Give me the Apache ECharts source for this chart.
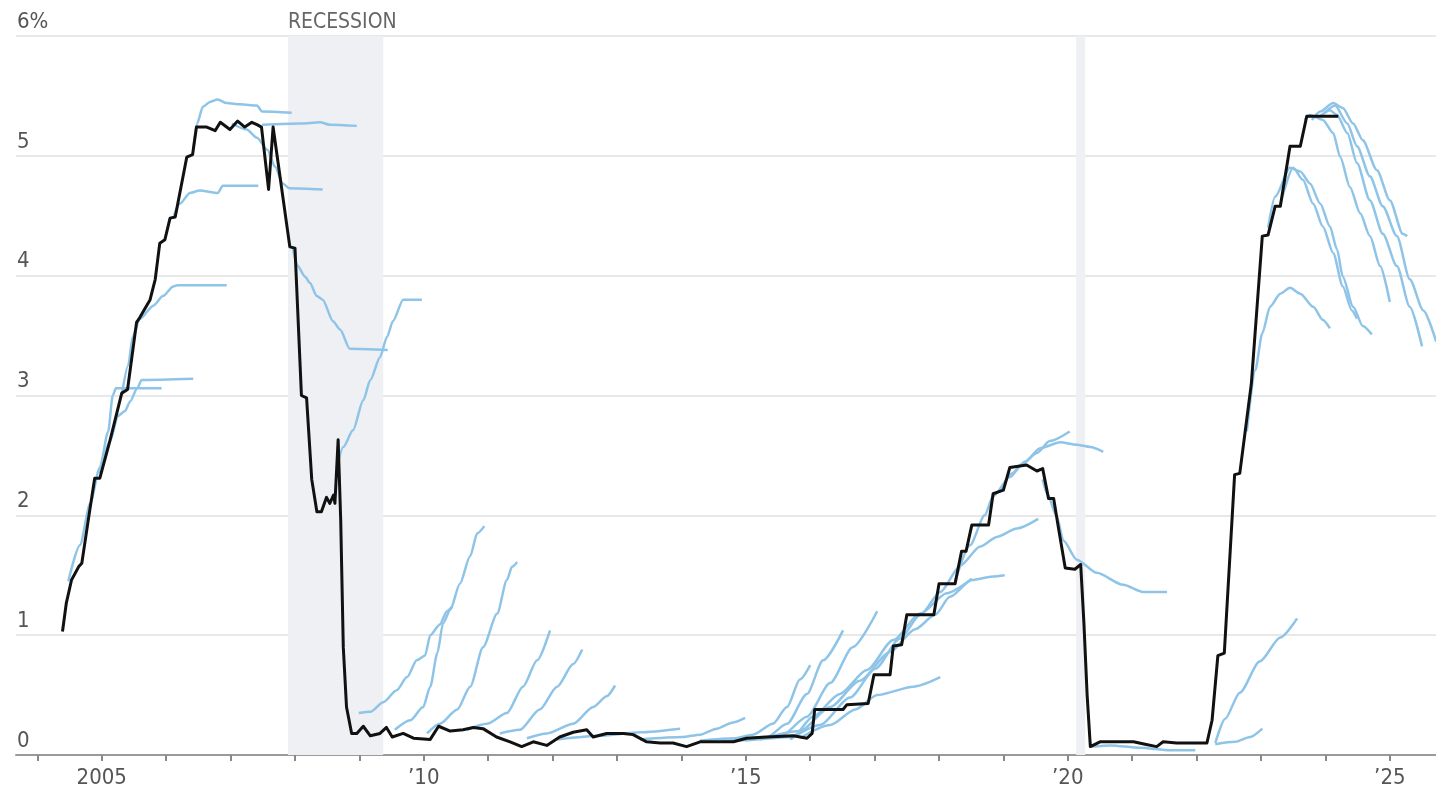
<!DOCTYPE html>
<html>
<head>
<meta charset="utf-8">
<script src="https://cdn.jsdelivr.net/npm/echarts@6/dist/echarts.min.js"></script>
<style>
  html, body { margin: 0; padding: 0; background: #ffffff; }
  #chart { width: 1436px; height: 799px; }
</style>
</head>
<body>
<div id="chart"></div>
<script>
// x values are decimal years, y values are percent.

// Effective federal funds rate
const fedFunds = [
  [2004.39,1.03],[2004.45,1.27],[2004.53,1.46],[2004.64,1.57],[2004.69,1.60],[2004.79,1.96],
  [2004.89,2.31],[2004.97,2.31],[2005.13,2.63],[2005.31,3.02],[2005.40,3.05],[2005.54,3.61],
  [2005.59,3.65],[2005.75,3.80],[2005.83,3.97],[2005.90,4.27],[2005.98,4.30],[2006.06,4.48],
  [2006.14,4.49],[2006.32,4.99],[2006.41,5.01],[2006.47,5.24],[2006.63,5.24],[2006.76,5.21],
  [2006.84,5.28],[2006.99,5.22],[2007.11,5.29],[2007.22,5.24],[2007.33,5.28],[2007.41,5.26],
  [2007.48,5.24],[2007.59,4.72],[2007.66,5.24],[2007.92,4.24],[2008.00,4.23],[2008.10,3.00],
  [2008.18,2.98],[2008.26,2.30],[2008.34,2.03],[2008.41,2.03],[2008.49,2.15],[2008.54,2.10],
  [2008.60,2.17],[2008.62,2.10],[2008.67,2.63],[2008.71,1.96],[2008.75,0.90],[2008.80,0.40],
  [2008.88,0.18],[2008.96,0.18],[2009.06,0.24],[2009.17,0.16],[2009.32,0.18],[2009.42,0.23],
  [2009.51,0.15],[2009.68,0.18],[2009.84,0.14],[2010.10,0.13],[2010.23,0.24],[2010.41,0.20],
  [2010.61,0.21],[2010.77,0.23],[2010.92,0.22],[2011.13,0.15],[2011.34,0.11],[2011.52,0.07],
  [2011.70,0.11],[2011.91,0.08],[2012.11,0.15],[2012.32,0.19],[2012.53,0.21],[2012.63,0.15],
  [2012.84,0.18],[2013.10,0.18],[2013.25,0.17],[2013.46,0.11],[2013.67,0.10],[2013.87,0.10],
  [2014.08,0.07],[2014.29,0.11],[2014.81,0.11],[2015.01,0.14],[2015.32,0.15],[2015.74,0.16],
  [2015.95,0.14],[2016.03,0.18],[2016.07,0.38],[2016.51,0.38],[2016.57,0.42],[2016.90,0.43],
  [2016.99,0.67],[2017.24,0.67],[2017.29,0.91],[2017.42,0.92],[2017.50,1.17],[2017.92,1.17],
  [2018.00,1.43],[2018.25,1.43],[2018.35,1.70],[2018.42,1.70],[2018.51,1.92],[2018.77,1.92],
  [2018.84,2.18],[2019.00,2.21],[2019.10,2.40],[2019.36,2.42],[2019.52,2.37],[2019.61,2.39],
  [2019.70,2.14],[2019.78,2.14],[2019.85,1.91],[2019.96,1.56],[2020.11,1.55],[2020.20,1.59],
  [2020.25,1.10],[2020.30,0.50],[2020.35,0.07],[2020.50,0.11],[2021.02,0.11],[2021.20,0.09],
  [2021.38,0.07],[2021.48,0.11],[2021.69,0.10],[2022.16,0.10],[2022.24,0.29],[2022.33,0.83],
  [2022.43,0.85],[2022.59,2.34],[2022.67,2.35],[2022.85,3.10],[2023.02,4.33],[2023.11,4.34],
  [2023.22,4.58],[2023.30,4.58],[2023.45,5.08],[2023.61,5.08],[2023.71,5.33],[2024.20,5.33]
];

// Market-implied rate paths, one array per forecast date
const paths2004to2008 = [
  [[2004.48,1.45],[2004.66,1.75],[2004.82,2.10],[2004.97,2.40],[2005.10,2.70],[2005.17,3.00],[2005.22,3.06],[2005.93,3.06]],
  [[2004.97,2.35],[2005.13,2.62],[2005.25,2.83],[2005.36,2.87],[2005.44,2.95],[2005.55,3.06],[2005.62,3.13],[2006.42,3.14]],
  [[2005.31,3.00],[2005.41,3.25],[2005.48,3.49],[2005.59,3.64],[2005.80,3.75],[2005.95,3.83],[2006.11,3.91],[2006.17,3.92],[2006.94,3.92]],
  [[2006.12,4.50],[2006.21,4.60],[2006.37,4.69],[2006.52,4.71],[2006.80,4.69],[2006.88,4.75],[2007.43,4.75]],
  [[2006.42,5.05],[2006.48,5.27],[2006.57,5.41],[2006.68,5.45],[2006.80,5.47],[2006.94,5.44],[2007.15,5.43],[2007.41,5.42],[2007.49,5.37],[2007.95,5.36]],
  [[2007.49,5.26],[2008.08,5.27],[2008.39,5.28],[2008.54,5.26],[2008.96,5.25]],
  [[2007.02,5.27],[2007.25,5.22],[2007.41,5.15],[2007.57,5.05],[2007.69,4.91],[2007.81,4.77],[2007.91,4.73],[2008.43,4.72]],
  [[2007.97,4.22],[2008.03,4.09],[2008.16,3.99],[2008.23,3.94],[2008.34,3.83],[2008.43,3.80],[2008.59,3.62],[2008.70,3.55],[2008.85,3.39],[2009.44,3.38]],
  [[2008.65,2.40],[2008.75,2.57],[2008.90,2.71],[2009.06,2.96],[2009.17,3.13],[2009.32,3.32],[2009.43,3.49],[2009.52,3.62],[2009.68,3.80],[2009.97,3.80]]
];

const paths2009to2015 = [
  [[2008.99,0.35],[2009.17,0.36],[2009.37,0.44],[2009.58,0.54],[2009.74,0.65],[2009.89,0.79],[2010.02,0.83],[2010.10,1.00],[2010.25,1.09],[2010.36,1.20],[2010.44,1.24]],
  [[2009.55,0.21],[2009.79,0.29],[2009.99,0.40],[2010.10,0.57],[2010.21,0.85],[2010.30,1.10],[2010.41,1.21],[2010.56,1.43],[2010.72,1.66],[2010.83,1.85],[2010.94,1.91]],
  [[2010.05,0.18],[2010.25,0.26],[2010.52,0.38],[2010.72,0.57],[2010.92,0.90],[2011.14,1.18],[2011.29,1.46],[2011.37,1.57],[2011.45,1.61]],
  [[2010.67,0.21],[2010.98,0.26],[2011.29,0.35],[2011.54,0.57],[2011.76,0.79],[2011.96,1.04]],
  [[2011.18,0.18],[2011.49,0.21],[2011.80,0.38],[2012.07,0.57],[2012.32,0.76],[2012.46,0.88]],
  [[2011.60,0.14],[2011.91,0.18],[2012.32,0.26],[2012.63,0.40],[2012.84,0.49],[2012.97,0.58]],
  [[2012.07,0.13],[2012.74,0.16],[2013.36,0.19],[2013.98,0.22]],
  [[2013.36,0.13],[2014.02,0.15],[2014.29,0.17],[2014.55,0.22],[2014.79,0.27],[2014.99,0.31]]
];

const paths2015to2021 = [
  [[2014.29,0.12],[2014.83,0.14],[2015.11,0.17],[2015.42,0.26],[2015.64,0.40],[2015.84,0.63],[2016.00,0.75]],
  [[2014.60,0.11],[2015.33,0.15],[2015.64,0.26],[2015.95,0.51],[2016.20,0.79],[2016.51,1.04]],
  [[2014.91,0.12],[2015.53,0.15],[2015.95,0.32],[2016.31,0.60],[2016.66,0.90],[2017.04,1.20]],
  [[2015.84,0.14],[2016.31,0.25],[2016.70,0.38],[2017.04,0.50],[2017.60,0.57],[2018.02,0.65]],
  [[2014.99,0.12],[2015.73,0.15],[2016.04,0.32],[2016.46,0.51],[2016.88,0.71],[2017.29,0.96],[2017.71,1.18],[2018.12,1.35],[2018.51,1.47]],
  [[2015.22,0.13],[2015.84,0.20],[2016.31,0.40],[2016.77,0.62],[2017.24,0.86],[2017.63,1.05],[2017.94,1.17],[2018.17,1.32],[2018.51,1.46],[2018.84,1.49],[2019.02,1.50]],
  [[2015.69,0.13],[2016.15,0.25],[2016.62,0.48],[2017.01,0.72],[2017.39,0.97],[2017.71,1.17],[2018.02,1.36],[2018.33,1.58],[2018.64,1.74],[2018.90,1.82],[2019.21,1.89],[2019.54,1.97]],
  [[2018.25,1.45],[2018.48,1.75],[2018.71,2.00],[2018.84,2.16],[2019.10,2.32],[2019.30,2.43],[2019.52,2.52],[2019.72,2.62],[2020.03,2.70]],
  [[2018.95,2.20],[2019.13,2.35],[2019.34,2.45],[2019.57,2.56],[2019.88,2.61],[2020.14,2.59],[2020.35,2.57],[2020.55,2.53]],
  [[2019.61,2.30],[2019.68,2.18],[2019.83,1.99],[2019.93,1.79],[2020.14,1.63],[2020.45,1.52],[2020.86,1.42],[2021.17,1.36],[2021.54,1.36]],
  [[2020.38,0.07],[2020.66,0.08],[2021.12,0.06],[2021.59,0.04],[2021.98,0.04]]
];

const paths2022to2025 = [
  [[2022.29,0.10],[2022.44,0.30],[2022.67,0.52],[2022.98,0.78],[2023.30,0.98],[2023.56,1.14]],
  [[2022.29,0.09],[2022.60,0.11],[2022.83,0.15],[2023.02,0.22]],
  [[2022.78,2.70],[2022.91,3.21],[2023.02,3.52],[2023.14,3.74],[2023.30,3.85],[2023.45,3.90],[2023.61,3.85],[2023.81,3.74],[2023.96,3.63],[2024.07,3.56]],
  [[2023.11,4.40],[2023.22,4.66],[2023.45,4.90],[2023.61,4.87],[2023.76,4.77],[2023.92,4.60],[2024.07,4.41],[2024.18,4.22],[2024.27,3.99],[2024.43,3.74],[2024.58,3.58],[2024.72,3.51]],
  [[2023.30,4.60],[2023.50,4.90],[2023.65,4.80],[2023.81,4.60],[2023.96,4.41],[2024.12,4.19],[2024.27,3.91],[2024.41,3.71],[2024.49,3.64]],
  [[2023.79,5.30],[2023.92,5.37],[2024.12,5.44],[2024.27,5.40],[2024.43,5.27],[2024.58,5.13],[2024.80,4.88],[2025.00,4.63],[2025.20,4.35],[2025.27,4.33]],
  [[2023.68,5.30],[2023.76,5.34],[2023.96,5.30],[2024.12,5.19],[2024.23,4.99],[2024.38,4.74],[2024.54,4.52],[2024.69,4.33],[2024.85,4.08],[2025.00,3.78]],
  [[2023.92,5.33],[2024.07,5.38],[2024.18,5.34],[2024.34,5.19],[2024.49,4.94],[2024.69,4.63],[2024.89,4.35],[2025.11,4.08],[2025.31,3.74],[2025.50,3.41]],
  [[2023.99,5.36],[2024.15,5.42],[2024.34,5.27],[2024.49,5.08],[2024.69,4.83],[2024.89,4.58],[2025.11,4.33],[2025.31,3.97],[2025.52,3.71],[2025.72,3.45]]
];

// Recession periods (start, end)
const recessions = [[2007.89, 2009.37], [2020.13, 2020.27]];
const recessionLabel = 'RECESSION';

// Axis ticks and labels
const xRange = [2003.668, 2025.717];
const yearTicks = [2004,2005,2006,2007,2008,2009,2010,2011,2012,2013,2014,2015,2016,2017,2018,2019,2020,2021,2022,2023,2024,2025];
const labelYears = [2005, 2010, 2015, 2020, 2025];
const yMax = 6;

const FONT = "'DejaVu Sans Condensed', 'DejaVu Sans', sans-serif";
const BLUE = '#8ec4e8';

const chart = echarts.init(document.getElementById('chart'), null, { renderer: 'canvas' });

const bluePaths = [].concat(paths2004to2008, paths2009to2015, paths2015to2021, paths2022to2025);

const series = [];

// Shaded recession bands
series.push({
  type: 'line',
  data: [],
  silent: true,
  z: 1,
  markArea: {
    silent: true,
    itemStyle: { color: '#eff0f3' },
    data: recessions.map((r, i) => [
      {
        xAxis: r[0],
        label: i === 0 ? {
          show: true,
          formatter: recessionLabel,
          position: [0, -24],
          color: '#666',
          fontFamily: FONT,
          fontSize: 21
        } : { show: false }
      },
      { xAxis: r[1] }
    ])
  }
});

bluePaths.forEach(p => {
  series.push({
    type: 'line',
    data: p,
    showSymbol: false,
    silent: true,
    smooth: 0.25,
    smoothMonotone: 'x',
    z: 3,
    lineStyle: { color: BLUE, width: 2.5 }
  });
});

series.push({
  type: 'line',
  data: fedFunds,
  showSymbol: false,
  silent: true,
  z: 5,
  lineStyle: { color: '#111111', width: 3, join: 'round' }
});

chart.setOption({
  animation: false,
  backgroundColor: '#ffffff',
  grid: { left: 16, right: 0, top: 36, bottom: 44, containLabel: false },
  xAxis: {
    type: 'value',
    min: xRange[0],
    max: xRange[1],
    splitLine: { show: false },
    axisLine: { show: true, lineStyle: { color: '#9a9a9a', width: 2 } },
    axisTick: {
      show: true,
      customValues: yearTicks,
      length: 6,
      lineStyle: { color: '#888', width: 2 }
    },
    axisLabel: {
      customValues: labelYears,
      margin: 12,
      color: '#555',
      fontFamily: FONT,
      fontSize: 22,
      formatter: v => (v === 2005 ? '2005' : '\u2019' + String(v).slice(2))
    }
  },
  yAxis: {
    type: 'value',
    min: 0,
    max: yMax,
    interval: 1,
    axisLine: { show: false },
    axisTick: { show: false },
    splitLine: { show: true, lineStyle: { color: '#e8e8e8', width: 2 } },
    axisLabel: {
      inside: true,
      margin: 1,
      align: 'left',
      verticalAlign: 'bottom',
      padding: [0, 0, 3, 0],
      color: '#555',
      fontFamily: FONT,
      fontSize: 22,
      formatter: v => (v === yMax ? v + '%' : String(v))
    }
  },
  series: series
});
</script>
</body>
</html>
